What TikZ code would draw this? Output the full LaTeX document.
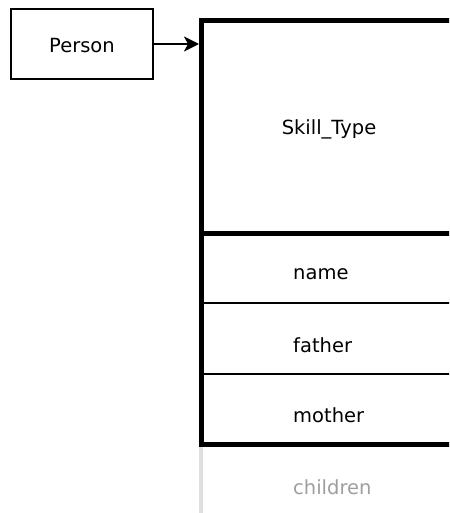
\documentclass[tikz,border=0pt]{standalone}
\usepackage{fontspec}
\setmainfont{DejaVu Sans}
\usetikzlibrary{arrows.meta}
\begin{document}
\begin{tikzpicture}[x=1pt,y=-1pt,
  label/.style={inner sep=0pt,font=\fontsize{19.5}{23}\selectfont},
  field/.style={label,anchor=west},
  heavy/.style={line width=5pt},
  light/.style={line width=2pt},
  link/.style={line width=2pt,-{Stealth[length=15pt,width=15pt,inset=4pt]}}]
\useasboundingbox (0,0) rectangle (449,513);
\begin{scope}
\clip (0,0) rectangle (449,513);
% the class box
\node[draw,line width=2pt,minimum width=142pt,minimum height=70pt,label] (person) at (82,44) {};
\node[label] (persontext) at (82,46) {Person};
% record frame, running past the right edge
\coordinate (tl) at (201,21);
\coordinate (bl) at (201,444);
\draw[heavy] (460,21) -- (tl) -- (bl) -- (460,444);
\draw[heavy] (199,233) -- (460,233);
\draw[light] (201,303) -- (460,303);
\draw[light] (201,374) -- (460,374);
% faded continuation below
\draw[line width=4pt,gray!25] (201,447) -- (201,515);
% field labels
\node[label] (type) at (329,129) {Skill\_Type};
\node[field] (name) at (293,274) {name};
\node[field] (father) at (293,345) {father};
\node[field] (mother) at (293,415) {mother};
\node[field,text=black!38] (children) at (293,487) {children};
\coordinate (entry) at (199,44);
\draw[link] (person.east) -- (entry);
\end{scope}
\end{tikzpicture}
\end{document}
